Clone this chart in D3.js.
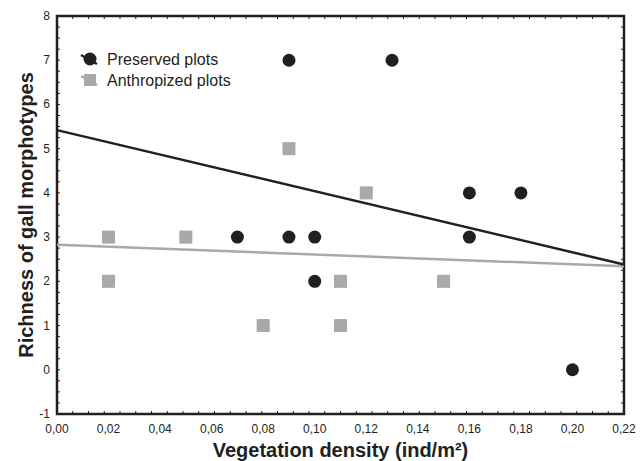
<!DOCTYPE html>
<head>
	<meta charset="utf-8">
	<title>Gall morphotypes vs vegetation density</title>
	<script src="https://d3js.org/d3.v7.min.js"></script>
	<style>
	body { margin:0; background:#fff; }
	svg text { font-family: "Liberation Sans", Arial, sans-serif; fill:#231f20; }
	.ticklabel { font-size:12px; }
	.axistitle { font-size:20px; font-weight:bold; }
	.legendtext { font-size:16px; }
	</style>
</head>
<body>
<div class="chartContainer"></div>
<script>
//values
var preservedX=[0.09,0.13,0.07,0.09,0.10,0.10,0.16,0.18,0.16,0.20];
var preservedY=[7,7,3,3,3,2,4,4,3,0];
var anthropX=[0.02,0.02,0.05,0.09,0.12,0.08,0.11,0.11,0.15];
var anthropY=[3,2,3,5,4,1,2,1,2];
//fitted lines, endpoints as drawn
var preservedFit=[[0,5.42],[0.22,2.38]];
var anthropFit=[[0,2.83],[0.22,2.34]];
var xTicks=[0,0.02,0.04,0.06,0.08,0.10,0.12,0.14,0.16,0.18,0.20,0.22];
var yTicks=[-1,0,1,2,3,4,5,6,7,8];
var seriesNames=["Preserved plots","Anthropized plots"];

var black="#231f20", grey="#a7a9ac";
var totalWidth=640, totalHeight=461;
var margin={top:16, right:16, bottom:47, left:57};
var width=totalWidth-margin.left-margin.right,
	height=totalHeight-margin.top-margin.bottom;

var svg=d3.select(".chartContainer").append("svg")
	.attr("width",totalWidth).attr("height",totalHeight);
var g=svg.append("g").attr("transform","translate("+margin.left+","+margin.top+")");

var x=d3.scaleLinear().domain([0,0.22]).range([0,width]);
var y=d3.scaleLinear().domain([-1,8]).range([height,0]);

var fmt=function(d){ return d3.format(".2f")(d).replace(".",","); };

//minor ticks, 36 steps on each axis, pointing inwards
var minorX=d3.range(37).map(function(i){ return i*0.22/36; });
var minorY=d3.range(37).map(function(i){ return -1+i*0.25; });
var tl=3;
g.selectAll(".mxb").data(minorX).enter().append("line")
	.attr("x1",function(d){return x(d);}).attr("x2",function(d){return x(d);})
	.attr("y1",height).attr("y2",height-tl).attr("stroke",black).attr("stroke-width",1);
g.selectAll(".mxt").data(minorX).enter().append("line")
	.attr("x1",function(d){return x(d);}).attr("x2",function(d){return x(d);})
	.attr("y1",0).attr("y2",tl).attr("stroke",black).attr("stroke-width",1);
g.selectAll(".myl").data(minorY).enter().append("line")
	.attr("y1",function(d){return y(d);}).attr("y2",function(d){return y(d);})
	.attr("x1",0).attr("x2",tl).attr("stroke",black).attr("stroke-width",1);
g.selectAll(".myr").data(minorY).enter().append("line")
	.attr("y1",function(d){return y(d);}).attr("y2",function(d){return y(d);})
	.attr("x1",width).attr("x2",width-tl).attr("stroke",black).attr("stroke-width",1);

//frame
g.append("rect").attr("x",0).attr("y",0).attr("width",width).attr("height",height)
	.attr("fill","none").attr("stroke",black).attr("stroke-width",2.5);

//tick labels
g.selectAll(".xl").data(xTicks).enter().append("text")
	.attr("class","ticklabel").attr("x",function(d){return x(d);}).attr("y",height+19)
	.attr("text-anchor","middle").text(fmt);
g.selectAll(".yl").data(yTicks).enter().append("text")
	.attr("class","ticklabel").attr("x",-7).attr("y",function(d){return y(d)+4;})
	.attr("text-anchor","end").text(function(d){return d;});

//fit lines
var line=d3.line().x(function(d){return x(d[0]);}).y(function(d){return y(d[1]);});
g.append("path").attr("d",line(anthropFit)).attr("fill","none").attr("stroke",grey).attr("stroke-width",2.5);
g.append("path").attr("d",line(preservedFit)).attr("fill","none").attr("stroke",black).attr("stroke-width",2.5);

//points
var sq=13;
g.selectAll(".sq").data(anthropX).enter().append("rect")
	.attr("x",function(d){return x(d)-sq/2;})
	.attr("y",function(d,i){return y(anthropY[i])-sq/2;})
	.attr("width",sq).attr("height",sq).attr("fill",grey);
g.selectAll(".dot").data(preservedX).enter().append("circle")
	.attr("cx",function(d){return x(d);})
	.attr("cy",function(d,i){return y(preservedY[i]);})
	.attr("r",6.5).attr("fill",black);

//legend
var lg=svg.append("g").attr("transform","translate(90,59)");
lg.append("line").attr("x1",-9).attr("y1",-4).attr("x2",7).attr("y2",5).attr("stroke",black).attr("stroke-width",2.5);
lg.append("circle").attr("r",6.5).attr("fill",black);
lg.append("text").attr("class","legendtext").attr("x",17).attr("y",6).text(seriesNames[0]);
var lg2=svg.append("g").attr("transform","translate(90,80)");
lg2.append("line").attr("x1",-9).attr("y1",-4).attr("x2",7).attr("y2",5).attr("stroke",grey).attr("stroke-width",2.5);
lg2.append("rect").attr("x",-6).attr("y",-6).attr("width",12).attr("height",12).attr("fill",grey);
lg2.append("text").attr("class","legendtext").attr("x",17).attr("y",6).text(seriesNames[1]);

//axis titles
svg.append("text").attr("class","axistitle")
	.attr("transform","translate(33,"+(margin.top+height/2)+") rotate(-90)")
	.attr("text-anchor","middle").text("Richness of gall morphotypes");
svg.append("text").attr("class","axistitle")
	.attr("x",margin.left+width/2).attr("y",457)
	.attr("text-anchor","middle").text("Vegetation density (ind/m²)");
</script>
</body>
</html>
